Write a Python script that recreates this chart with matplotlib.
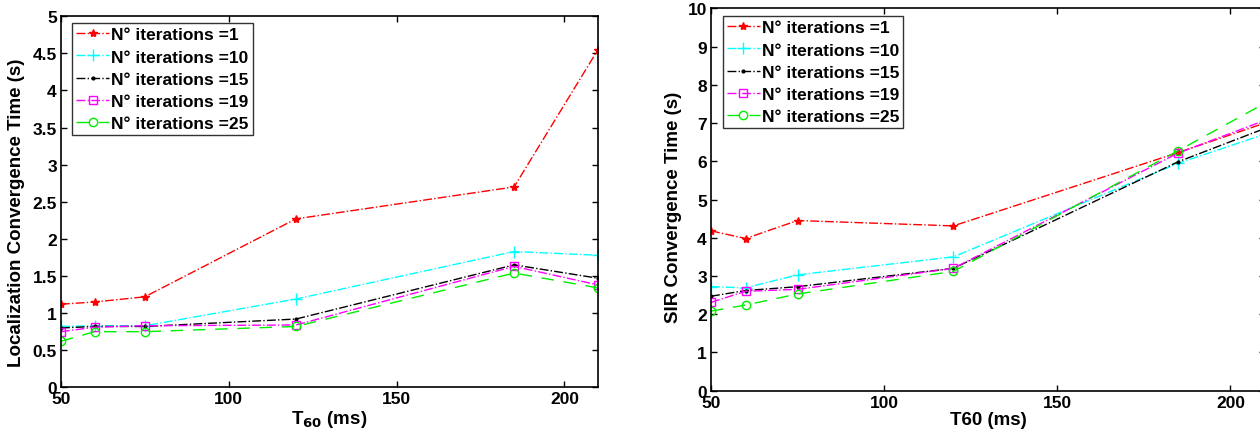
import matplotlib
matplotlib.use('Agg')
import matplotlib.pyplot as plt

plt.rcParams['font.family'] = ['Liberation Sans', 'DejaVu Sans']
plt.rcParams['font.weight'] = 'bold'

t60 = [50, 60, 75, 120, 185, 210]
labels = ['N° iterations =1', 'N° iterations =10', 'N° iterations =15',
          'N° iterations =19', 'N° iterations =25']

# localization convergence time (s)
loc_1 = [1.12, 1.15, 1.22, 2.27, 2.70, 4.55]
loc_10 = [0.82, 0.83, 0.83, 1.19, 1.83, 1.78]
loc_15 = [0.80, 0.82, 0.82, 0.92, 1.65, 1.47]
loc_19 = [0.75, 0.81, 0.83, 0.84, 1.63, 1.38]
loc_25 = [0.62, 0.75, 0.75, 0.82, 1.54, 1.34]

# SIR convergence time (s)
sir_1 = [4.18, 3.98, 4.45, 4.31, 6.23, 7.00]
sir_10 = [2.72, 2.69, 3.03, 3.50, 5.95, 6.71]
sir_15 = [2.47, 2.62, 2.72, 3.20, 5.99, 6.86]
sir_19 = [2.31, 2.60, 2.65, 3.20, 6.22, 7.07]
sir_25 = [2.08, 2.24, 2.53, 3.12, 6.28, 7.52]

styles = [
    dict(color='#ff0000', linestyle='-.', marker='*', markersize=6),
    dict(color='#00ffff', linestyle='-.', marker='+', markersize=8),
    dict(color='black', linestyle='-.', marker='.', markersize=4),
    dict(color='#ff00ff', linestyle='-.', marker='s', markersize=6, markerfacecolor='none'),
    dict(color='#00ee00', linestyle=(0, (9, 7)), marker='o', markersize=6, markerfacecolor='none'),
]

fig = plt.figure(figsize=(12.6, 4.31), dpi=100)
ax1 = fig.add_axes([0.0484, 0.099, 0.4262, 0.861])
ax2 = fig.add_axes([0.5643, 0.0912, 0.4397, 0.8872])


def setup(ax):
    ax.tick_params(direction='in', top=True, right=True, labelsize=12.5, length=4, width=1, pad=3)
    for s in ax.spines.values():
        s.set_linewidth(1.2)
    for lab in ax.get_xticklabels() + ax.get_yticklabels():
        lab.set_fontweight('bold')


def legend(ax, x, y):
    leg = ax.legend(loc='upper left', bbox_to_anchor=(x, y), fontsize=12.5, frameon=True,
                    fancybox=False, edgecolor='black', handlelength=1.9, handletextpad=0.1,
                    labelspacing=0.4, borderpad=0.25, borderaxespad=0)
    leg.get_frame().set_linewidth(1)


for y, lab, st in zip([loc_1, loc_10, loc_15, loc_19, loc_25], labels, styles):
    ax1.plot(t60, y, label=lab, linewidth=1, **st)
ax1.set_xlim(50, 210)
ax1.set_ylim(0, 5)
ax1.set_xticks([50, 100, 150, 200])
ax1.set_yticks([0, 0.5, 1, 1.5, 2, 2.5, 3, 3.5, 4, 4.5, 5])
ax1.set_yticklabels(['0', '0.5', '1', '1.5', '2', '2.5', '3', '3.5', '4', '4.5', '5'])
ax1.set_xlabel('T$_{\\mathbf{60}}$ (ms)', fontsize=13.5, fontweight='bold', labelpad=1)
ax1.set_ylabel('Localization Convergence Time (s)', fontsize=13.5, fontweight='bold')
ax1.yaxis.set_label_coords(-0.067, 0.4725)
setup(ax1)
legend(ax1, 0.02, 0.982)

for y, lab, st in zip([sir_1, sir_10, sir_15, sir_19, sir_25], labels, styles):
    ax2.plot(t60, y, label=lab, linewidth=1, **st)
ax2.set_xlim(50, 210)
ax2.set_ylim(0, 10)
ax2.set_xticks([50, 100, 150, 200])
ax2.set_yticks(range(0, 11))
ax2.set_xlabel('T60 (ms)', fontsize=13.5, fontweight='bold', labelpad=1)
ax2.set_ylabel('SIR Convergence Time (s)', fontsize=13.5, fontweight='bold')
ax2.yaxis.set_label_coords(-0.052, 0.483)
setup(ax2)
legend(ax2, 0.021, 0.98)

fig.savefig('out.png', dpi=100)
